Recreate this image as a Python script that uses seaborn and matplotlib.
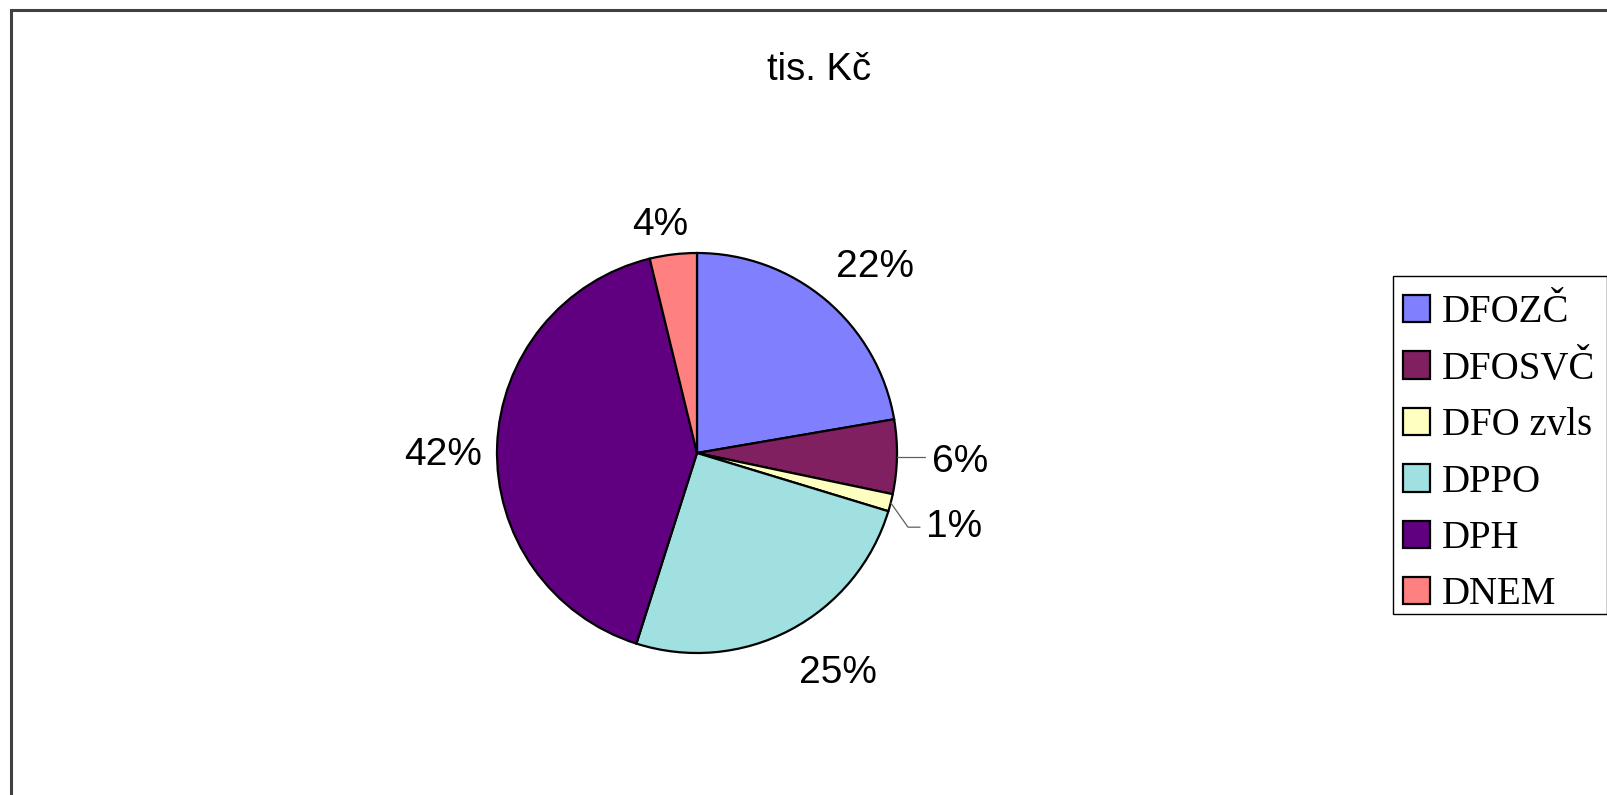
import numpy as np
import matplotlib
matplotlib.use("Agg")
import matplotlib.pyplot as plt
import seaborn as sns
from matplotlib.patches import Rectangle

# ---- data ----
categories = ["DFOZČ", "DFOSVČ", "DFO zvls", "DPPO", "DPH", "DNEM"]
values = [22.3, 6.0, 1.4, 25.2, 41.3, 3.8]
pct_labels = ["22%", "6%", "1%", "25%", "42%", "4%"]
colors = ["#8080FF", "#802060", "#FFFFC0", "#A0E0E0", "#600080", "#FF8080"]
title = "tis. Kč"

# label placement styles (radial distance, angular nudge in degrees)
label_dist = [1.30, 1.315, 1.33, 1.29, 1.27, 1.175]
label_nudge = [-3.0, 0.0, -0.9, 5.3, 1.5, 2.1]
label_drop = 0.02

sns.set_theme(style="white")
plt.rcParams['font.family'] = ['Liberation Sans', 'DejaVu Sans']
plt.rcParams['text.color'] = 'black'

W, H = 1608, 795
fig = plt.figure(figsize=(W / 100, H / 100), dpi=100)
fig.patch.set_facecolor("white")

# outer chart frame (cropped on right & bottom)
fig.patches.append(Rectangle((11 / W, -0.1), 1.2, (H - 10) / H + 0.1,
                             transform=fig.transFigure, fill=False,
                             edgecolor="#404040", linewidth=2.2, zorder=0))

cx, cy, r = 697, 795 - 453, 200
half = 1.3 * r
ax = fig.add_axes([(cx - half) / W, (cy - half) / H, 2 * half / W, 2 * half / H])

wedges, _ = ax.pie(values, colors=colors, startangle=90, counterclock=False,
                   radius=1.0,
                   wedgeprops=dict(edgecolor="black", linewidth=1.6))
ax.set_xlim(-1.3, 1.3)
ax.set_ylim(-1.3, 1.3)
ax.set_axis_off()

total = float(sum(values))
cum = np.cumsum([0] + values[:-1])
for i, (v, c0) in enumerate(zip(values, cum)):
    mid = 90 - (c0 + v / 2) / total * 360
    ang = np.deg2rad(mid + label_nudge[i])
    d = label_dist[i]
    lx, ly = d * np.cos(ang), d * np.sin(ang) - label_drop
    ax.text(lx, ly, pct_labels[i], ha="center", va="center", fontsize=28,
            color="black", family=["Liberation Sans", "DejaVu Sans"], clip_on=False)
    if categories[i] == "DFOSVČ":
        a = np.deg2rad(mid)
        ax.plot([np.cos(a), 1.14], [np.sin(a), np.sin(a)], color="#606060",
                lw=0.9, clip_on=False)
    if categories[i] == "DFO zvls":
        a = np.deg2rad(mid)
        ax.plot([np.cos(a), 1.055, 1.115], [np.sin(a), ly, ly], color="#606060",
                lw=0.9, clip_on=False)

fig.text(819 / W, 1 - 70 / H, title, ha="center", va="center", fontsize=27.5,
         color="black", family=["Liberation Sans", "DejaVu Sans"])

# legend without its own frame; frame drawn around handles with Excel-like padding
leg_kw = dict(loc="upper left",
              prop={"family": ["Liberation Serif", "DejaVu Serif"], "size": 28},
              frameon=False, labelcolor="black",
              handlelength=0.7, handleheight=0.7, handletextpad=0.3,
              labelspacing=0.5, borderpad=0.0, borderaxespad=0.0)
anchor = [1403.0, 295.0]  # target top-left of first legend swatch (px from top-left)
leg = fig.legend(wedges, categories, bbox_to_anchor=(anchor[0] / W, 1 - anchor[1] / H), **leg_kw)
for h in leg.legend_handles:
    h.set_edgecolor("black")
    h.set_linewidth(1.6)
fig.canvas.draw()
hb = leg.legend_handles[0].get_window_extent()
dx = anchor[0] - hb.x0
dy = (H - anchor[1]) - hb.y1
leg.set_bbox_to_anchor(((anchor[0] + dx) / W, (H - anchor[1] + dy) / H),
                       transform=fig.transFigure)
fig.canvas.draw()
hb0 = leg.legend_handles[0].get_window_extent()
hbn = leg.legend_handles[-1].get_window_extent()
lb = leg.get_window_extent()
pad_l, pad_r, pad_t, pad_b = 10, 12, 19, 10
x0 = hb0.x0 - pad_l
x1 = lb.x1 + pad_r
y1 = hb0.y1 + pad_t
y0 = hbn.y0 - pad_b
fig.patches.append(Rectangle((x0 / W, y0 / H), (x1 - x0) / W, (y1 - y0) / H,
                             transform=fig.transFigure, fill=False,
                             edgecolor="black", linewidth=1.0, zorder=5))

fig.savefig("out.png", dpi=100, facecolor="white")
